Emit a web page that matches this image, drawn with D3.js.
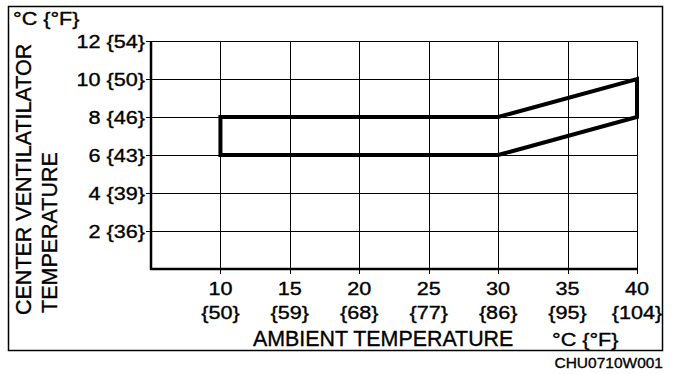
<!DOCTYPE html>
<html>
<head>
<meta charset="utf-8">
<script src="https://cdn.jsdelivr.net/npm/d3@7"></script>
<style>
  body { margin: 0; background: #fff; }
  svg { display: block; }
  text { font-family: "Liberation Sans", Arial, sans-serif; fill: #000; stroke: #000; stroke-width: 0.35px; }
</style>
</head>
<body>
<div id="chart"></div>
<script>
// ambient temp (°C) and the allowed vent outlet band
const ambient = [10, 30, 40];
const ventUpper = [8, 8, 10];
const ventLower = [6, 6, 8];

const xTicks = [10, 15, 20, 25, 30, 35, 40];
const xTicksF = [50, 59, 68, 77, 86, 95, 104];
const yTicks = [2, 4, 6, 8, 10, 12];
const yTicksF = [36, 39, 43, 46, 50, 54];

const width = 688, height = 374;
const margin = { top: 41, right: 51, bottom: 105, left: 151 };

const svg = d3.select('#chart').append('svg')
  .attr('width', width)
  .attr('height', height);

const x = d3.scaleLinear().domain([5, 40]).range([margin.left, width - margin.right]);
const y = d3.scaleLinear().domain([0, 12]).range([height - margin.bottom, margin.top]);

// crisp 1px lines
const px = v => Math.round(v) + 0.5;

// the scanned lettering is wider than Arial, so stretch it a bit
function stretch(sel, k) {
  sel.each(function () {
    const len = this.getComputedTextLength();
    d3.select(this).attr('textLength', len * k).attr('lengthAdjust', 'spacingAndGlyphs');
  });
}

// outer frame
svg.append('rect')
  .attr('x', 8.5).attr('y', 6.5)
  .attr('width', 654).attr('height', 344)
  .attr('fill', 'none').attr('stroke', '#000').attr('stroke-width', 1.5);

// grid
svg.append('g').selectAll('line').data(xTicks).enter().append('line')
  .attr('x1', d => px(x(d))).attr('x2', d => px(x(d)))
  .attr('y1', y(12)).attr('y2', y(0))
  .attr('stroke', '#000').attr('stroke-width', 1);

svg.append('g').selectAll('line').data(yTicks).enter().append('line')
  .attr('x1', x(5)).attr('x2', px(x(40)) + 0.5)
  .attr('y1', d => px(y(d))).attr('y2', d => px(y(d)))
  .attr('stroke', '#000').attr('stroke-width', 1);

// axes
const yAxis = svg.append('g')
  .attr('transform', 'translate(' + x(5) + ',0)')
  .call(d3.axisLeft(y).tickValues(yTicks).tickSize(5).tickFormat(''));
yAxis.select('.domain').attr('d', 'M0,' + y(12) + 'V' + (y(0) + 1)).attr('stroke-width', 2.5);
yAxis.selectAll('.tick').attr('transform', d => 'translate(0,' + px(y(d)) + ')');

const xAxis = svg.append('g')
  .attr('transform', 'translate(0,' + y(0) + ')')
  .call(d3.axisBottom(x).tickValues(xTicks).tickSize(5).tickFormat(''));
xAxis.select('.domain').attr('d', 'M' + (x(5) - 1) + ',0H' + (x(40) + 1)).attr('stroke-width', 2.5);
xAxis.selectAll('.tick').attr('transform', d => 'translate(' + px(x(d)) + ',0)');

// y tick labels
svg.append('g').selectAll('text').data(yTicks).enter().append('text')
  .attr('x', x(5) - 6)
  .attr('y', d => y(d) + 6.5)
  .attr('text-anchor', 'end')
  .attr('font-size', 18)
  .text((d, i) => d + ' {' + yTicksF[i] + '}')
  .call(stretch, 1.2);

// x tick labels, two lines
svg.append('g').selectAll('text').data(xTicks).enter().append('text')
  .attr('x', d => x(d))
  .attr('y', y(0) + 26)
  .attr('text-anchor', 'middle')
  .attr('font-size', 18)
  .text(d => d)
  .call(stretch, 1.2);

svg.append('g').selectAll('text').data(xTicksF).enter().append('text')
  .attr('x', (d, i) => x(xTicks[i]))
  .attr('y', y(0) + 50)
  .attr('text-anchor', 'middle')
  .attr('font-size', 18)
  .text(d => '{' + d + '}')
  .call(stretch, 1.2);

// titles
svg.append('text')
  .attr('x', 13).attr('y', 25)
  .attr('font-size', 18)
  .text('°C {°F}')
  .call(stretch, 1.2);

svg.append('text')
  .attr('x', 253).attr('y', 346)
  .attr('font-size', 21.4)
  .text('AMBIENT TEMPERATURE');

svg.append('text')
  .attr('x', 552).attr('y', 346)
  .attr('font-size', 18)
  .text('°C {°F}')
  .call(stretch, 1.2);

svg.append('text')
  .attr('transform', 'translate(31,315) rotate(-90)')
  .attr('font-size', 21.5)
  .text('CENTER VENTILATILATOR');

svg.append('text')
  .attr('transform', 'translate(57,313) rotate(-90)')
  .attr('font-size', 21.5)
  .text('TEMPERATURE');

svg.append('text')
  .attr('x', 663).attr('y', 368)
  .attr('text-anchor', 'end')
  .attr('font-size', 15.5)
  .text('CHU0710W001');

// band outline: top edge, then bottom edge back, closed
const band = ambient.map((a, i) => [a, ventUpper[i]])
  .concat(ambient.map((a, i) => [a, ventLower[i]]).reverse());

svg.append('path')
  .datum(band)
  .attr('d', d3.line().x(d => x(d[0])).y(d => y(d[1])).curve(d3.curveLinearClosed))
  .attr('fill', 'none')
  .attr('stroke', '#000')
  .attr('stroke-width', 4)
  .attr('stroke-linejoin', 'miter');
</script>
</body>
</html>
